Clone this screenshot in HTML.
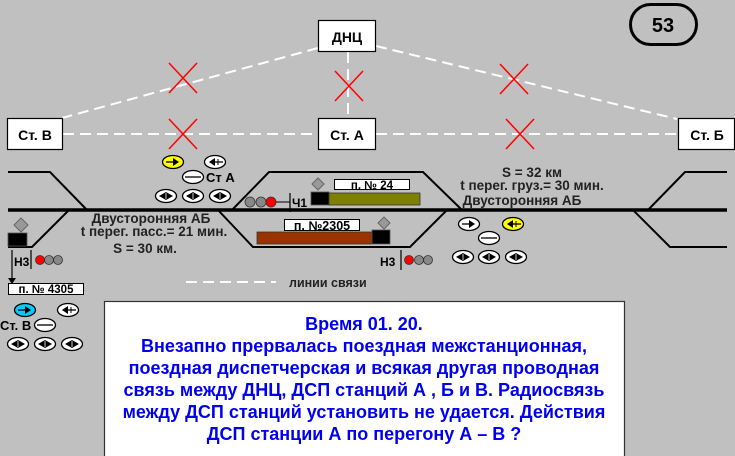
<!DOCTYPE html>
<html><head><meta charset="utf-8"><style>
html,body{margin:0;padding:0;background:#c0c0c0;}
svg{display:block;}
text{font-family:"Liberation Sans",Arial,sans-serif;font-weight:bold;}
</style></head><body>
<svg width="735" height="456" viewBox="0 0 735 456" xmlns="http://www.w3.org/2000/svg">
<defs>
  <g id="orR"><ellipse cx="0" cy="0" rx="10.5" ry="6.5" fill="#fff" stroke="#000" stroke-width="1.3"/><line x1="-7" y1="0" x2="1" y2="0" stroke="#000" stroke-width="1.3"/><polygon points="0,-4 6,0 0,4" fill="#000"/></g>
  <g id="orRy"><ellipse cx="0" cy="0" rx="10.5" ry="6.5" fill="#ffff00" stroke="#000" stroke-width="1.3"/><line x1="-7" y1="0" x2="1" y2="0" stroke="#000" stroke-width="1.3"/><polygon points="0,-4 6,0 0,4" fill="#000"/></g>
  <g id="orRc"><ellipse cx="0" cy="0" rx="10.5" ry="6.5" fill="#00ccff" stroke="#000" stroke-width="1.3"/><line x1="-7" y1="0" x2="1" y2="0" stroke="#000" stroke-width="1.3"/><polygon points="0,-4 6,0 0,4" fill="#000"/></g>
  <g id="orL"><ellipse cx="0" cy="0" rx="10.5" ry="6.5" fill="#fff" stroke="#000" stroke-width="1.3"/><line x1="-1" y1="0" x2="8" y2="0" stroke="#000" stroke-width="1.3"/><line x1="3" y1="-3" x2="3" y2="3" stroke="#000" stroke-width="1"/><polygon points="0,-4 -6,0 0,4" fill="#000"/></g>
  <g id="orLy"><ellipse cx="0" cy="0" rx="10.5" ry="6.5" fill="#ffff00" stroke="#000" stroke-width="1.3"/><line x1="-1" y1="0" x2="8" y2="0" stroke="#000" stroke-width="1.3"/><line x1="3" y1="-3" x2="3" y2="3" stroke="#000" stroke-width="1"/><polygon points="0,-4 -6,0 0,4" fill="#000"/></g>
  <g id="orD"><ellipse cx="0" cy="0" rx="10.5" ry="6.5" fill="#fff" stroke="#000" stroke-width="1.3"/><line x1="-8" y1="0" x2="8" y2="0" stroke="#000" stroke-width="1.3"/></g>
  <g id="orB"><ellipse cx="0" cy="0" rx="10.5" ry="6.5" fill="#fff" stroke="#000" stroke-width="1.3"/><polygon points="-7,0 0,-4 7,0 0,4" fill="#000"/><line x1="0" y1="-3" x2="0" y2="3" stroke="#fff" stroke-width="0.8"/></g>
  <g id="cross"><line x1="-14" y1="-15" x2="14" y2="15" stroke="#ff0000" stroke-width="1.5"/><line x1="14" y1="-15" x2="-14" y2="15" stroke="#ff0000" stroke-width="1.5"/></g>
</defs>

<g stroke="#fff" stroke-width="2" stroke-dasharray="11,6" fill="none">
  <line x1="318" y1="48" x2="62" y2="118"/>
  <line x1="376" y1="46" x2="677" y2="119"/>
  <line x1="348" y1="52" x2="348" y2="118"/>
  <line x1="63" y1="134" x2="318" y2="134"/>
  <line x1="376" y1="134" x2="678" y2="134"/>
  <line x1="186" y1="282" x2="276" y2="282"/>
</g>
<use href="#cross" x="183" y="78"/>
<use href="#cross" x="349" y="86"/>
<use href="#cross" x="514" y="79"/>
<use href="#cross" x="183" y="134"/>
<use href="#cross" x="520" y="134"/>

<g fill="#fff" stroke="#000" stroke-width="1.2">
  <rect x="318.5" y="20.5" width="57" height="31"/>
  <rect x="7.5" y="118.5" width="55" height="31"/>
  <rect x="318.5" y="118.5" width="57" height="31"/>
  <rect x="678.5" y="118.5" width="56" height="31"/>
</g>
<text x="347" y="42" font-size="14" text-anchor="middle">ДНЦ</text>
<text x="35" y="140" font-size="14" text-anchor="middle">Ст. В</text>
<text x="347" y="140" font-size="14" text-anchor="middle">Ст. А</text>
<text x="707" y="140" font-size="14" text-anchor="middle">Ст. Б</text>

<rect x="630.5" y="4.5" width="66" height="40" rx="20" fill="none" stroke="#000" stroke-width="3"/>
<text x="663" y="32" font-size="20" text-anchor="middle">53</text>

<g stroke="#000" fill="none" stroke-width="2">
  <polyline points="8,172 50,172 87,210"/>
  <polyline points="69,210 32,247 8,247"/>
  <polyline points="232,210 269,172 423,172 462,210"/>
  <polyline points="218,210 253,247 410,247 447,210"/>
  <polyline points="648,210 685,172 727,172"/>
  <polyline points="633,210 670,247 727,247"/>
</g>
<line x1="8" y1="210" x2="727" y2="210" stroke="#000" stroke-width="3.5"/>

<polygon points="21,218 28,225 21,232 14,225" fill="#999" stroke="#666" stroke-width="1"/>
<rect x="8" y="233" width="19" height="13" fill="#000" stroke="#555" stroke-width="0.8"/>
<line x1="12" y1="250" x2="12" y2="279" stroke="#000" stroke-width="1.2"/>
<polygon points="8,278 16,278 12,284" fill="#000"/>
<text x="14" y="266" font-size="12">Н3</text>
<line x1="31" y1="250" x2="31" y2="269" stroke="#000" stroke-width="1.2"/>
<circle cx="40" cy="260" r="4.5" fill="#ff0000" stroke="#333" stroke-width="0.8"/>
<circle cx="49" cy="260" r="4.5" fill="#888" stroke="#333" stroke-width="0.8"/>
<circle cx="58" cy="260" r="4.5" fill="#888" stroke="#333" stroke-width="0.8"/>
<rect x="8.5" y="283.5" width="75" height="11" fill="#fff" stroke="#000" stroke-width="1"/>
<text x="46" y="293" font-size="11.5" text-anchor="middle">п. № 4305</text>

<use href="#orRc" x="25" y="310"/>
<use href="#orL" x="68" y="310"/>
<text x="0" y="330" font-size="13">Ст. В</text>
<use href="#orD" x="45" y="325"/>
<use href="#orB" x="18" y="344"/>
<use href="#orB" x="45" y="344"/>
<use href="#orB" x="72" y="344"/>

<use href="#orRy" x="173" y="162"/>
<use href="#orL" x="215" y="162"/>
<use href="#orD" x="193" y="177"/>
<text x="206" y="182" font-size="13">Ст А</text>
<use href="#orB" x="166" y="196"/>
<use href="#orB" x="193" y="196"/>
<use href="#orB" x="220" y="196"/>

<use href="#orR" x="469" y="224"/>
<use href="#orLy" x="513" y="224"/>
<use href="#orD" x="489" y="238"/>
<use href="#orB" x="463" y="257"/>
<use href="#orB" x="489" y="257"/>
<use href="#orB" x="516" y="257"/>

<circle cx="250" cy="202" r="5" fill="#888" stroke="#333" stroke-width="0.8"/>
<circle cx="261" cy="202" r="5" fill="#888" stroke="#333" stroke-width="0.8"/>
<circle cx="271" cy="202" r="5" fill="#ff0000" stroke="#333" stroke-width="0.8"/>
<line x1="276" y1="202" x2="290" y2="202" stroke="#000" stroke-width="1"/>
<line x1="290" y1="193" x2="290" y2="212" stroke="#000" stroke-width="1.2"/>
<text x="292" y="207" font-size="12">Ч1</text>

<polygon points="318,178 324,184 318,190 312,184" fill="#999" stroke="#666" stroke-width="1"/>
<rect x="311" y="192" width="18" height="13" fill="#000" stroke="#555" stroke-width="0.8"/>
<rect x="329" y="193" width="91" height="12" fill="#808000" stroke="#333" stroke-width="0.8"/>
<rect x="334.5" y="179.5" width="75" height="10" fill="#fff" stroke="#000" stroke-width="1"/>
<text x="372" y="189" font-size="11.5" text-anchor="middle">п. № 24</text>

<rect x="284.5" y="219.5" width="75" height="11" fill="#fff" stroke="#000" stroke-width="1"/>
<text x="322" y="230" font-size="12.5" text-anchor="middle">п. №2305</text>
<rect x="257" y="232" width="115" height="12" fill="#993300" stroke="#333" stroke-width="0.8"/>
<rect x="372" y="230" width="18" height="14" fill="#000" stroke="#555" stroke-width="0.8"/>
<polygon points="384,217 390,223 384,229 378,223" fill="#999" stroke="#666" stroke-width="1"/>

<text x="380" y="266" font-size="12">Н3</text>
<line x1="401" y1="250" x2="401" y2="270" stroke="#000" stroke-width="1.2"/>
<circle cx="409" cy="260" r="4.5" fill="#ff0000" stroke="#333" stroke-width="0.8"/>
<circle cx="419" cy="260" r="4.5" fill="#888" stroke="#333" stroke-width="0.8"/>
<circle cx="428" cy="260" r="4.5" fill="#888" stroke="#333" stroke-width="0.8"/>

<g font-size="13.5" fill="#222">
<text x="151" y="223" text-anchor="middle">Двусторонняя АБ</text>
<text x="154" y="236" text-anchor="middle">t перег. пасс.= 21 мин.</text>
<text x="145" y="253" text-anchor="middle">S = 30 км.</text>
<text x="532" y="177" text-anchor="middle">S = 32 км</text>
<text x="532" y="190" text-anchor="middle">t перег. груз.= 30 мин.</text>
<text x="522" y="205" text-anchor="middle">Двусторонняя АБ</text>
<text x="289" y="287" font-size="12.5">линии связи</text>
</g>

<rect x="104.5" y="301.5" width="520" height="160" fill="#fff" stroke="#333" stroke-width="1.2"/>
<g font-size="18" fill="#0000ee" text-anchor="middle">
  <text x="364" y="330">Время 01. 20.</text>
  <text x="364" y="352">Внезапно прервалась поездная межстанционная,</text>
  <text x="364" y="374">поездная диспетчерская и всякая другая проводная</text>
  <text x="364" y="396">связь между ДНЦ, ДСП станций А , Б и В. Радиосвязь</text>
  <text x="364" y="418">между ДСП станций установить не удается. Действия</text>
  <text x="364" y="440">ДСП станции А по перегону А – В ?</text>
</g>
</svg>
</body></html>
